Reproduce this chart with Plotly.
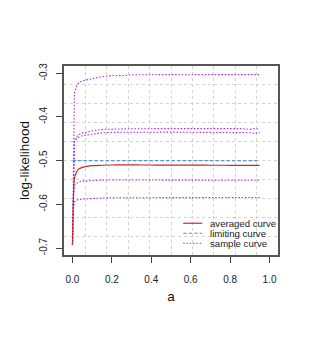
import plotly.graph_objects as go

a_vals = [0, 0.005, 0.01, 0.02, 0.03, 0.05, 0.075, 0.1, 0.15, 0.2, 0.25, 0.3, 0.35,
          0.4, 0.45, 0.5, 0.55, 0.6, 0.65, 0.7, 0.75, 0.8, 0.85, 0.9, 0.925, 0.95]

averaged = [-0.693, -0.590, -0.540, -0.527, -0.520, -0.5155, -0.513, -0.5115, -0.5105, -0.5100,
            -0.5098, -0.5098, -0.5099, -0.5100, -0.5101, -0.5102, -0.5103, -0.5104, -0.5104,
            -0.5105, -0.5105, -0.5106, -0.5106, -0.5107, -0.5107, -0.5108]

limiting = [-0.5] * len(a_vals)

sample1 = [-0.693, -0.450, -0.345, -0.330, -0.322, -0.317, -0.3146, -0.313, -0.308, -0.305,
           -0.3055, -0.3035, -0.303, -0.3025, -0.303, -0.303, -0.3032, -0.3033, -0.3032,
           -0.303, -0.3035, -0.3032, -0.303, -0.303, -0.3045, -0.303]
sample2 = [-0.693, -0.500, -0.452, -0.446, -0.441, -0.437, -0.434, -0.432, -0.4285, -0.4275,
           -0.427, -0.4268, -0.4268, -0.4267, -0.4268, -0.4268, -0.4267, -0.4268, -0.4268,
           -0.4267, -0.4268, -0.4268, -0.4267, -0.4285, -0.4265, -0.428]
sample3 = [-0.693, -0.510, -0.455, -0.451, -0.447, -0.443, -0.441, -0.439, -0.4365, -0.4352,
           -0.4348, -0.4348, -0.4347, -0.4348, -0.4348, -0.4347, -0.4348, -0.4348, -0.4348,
           -0.4347, -0.4348, -0.4348, -0.4350, -0.436, -0.4375, -0.435]
sample4 = [-0.693, -0.580, -0.556, -0.552, -0.549, -0.547, -0.546, -0.545, -0.5445, -0.5442,
           -0.5442, -0.5441, -0.5441, -0.5442, -0.5442, -0.5441, -0.5442, -0.5442, -0.5442,
           -0.5443, -0.5443, -0.5444, -0.5444, -0.5446, -0.5448, -0.5450]
sample5 = [-0.693, -0.610, -0.594, -0.591, -0.589, -0.588, -0.587, -0.586, -0.5855, -0.585,
           -0.5848, -0.5845, -0.5845, -0.5845, -0.5845, -0.5844, -0.5845, -0.5845, -0.5845,
           -0.5845, -0.5845, -0.5846, -0.5846, -0.5848, -0.5850, -0.5845]
samples = [sample1, sample2, sample3, sample4, sample5]

x_ticks = [0.0, 0.2, 0.4, 0.6, 0.8, 1.0]
x_ticklabels = ["0.0", "0.2", "0.4", "0.6", "0.8", "1.0"]
y_ticks = [-0.7, -0.6, -0.5, -0.4, -0.3]
y_ticklabels = ["-0.7", "-0.6", "-0.5", "-0.4", "-0.3"]

legend_labels = ["averaged curve", "limiting curve", "sample curve"]

RED = "#c42a2e"
BLUE = "#5096e0"
PURPLE = "#a32cf0"

x_range = [-0.043, 1.043]
y_range = [-0.716, -0.2833]
x_grid = [x_range[0] + k * (x_range[1] - x_range[0]) / 10 for k in range(1, 10)]
y_grid = [y_range[0] + k * (y_range[1] - y_range[0]) / 10 for k in range(1, 10)]

PURPLE_DASH = "1.5px,1.8px"
BLUE_DASH = "3.5px,2px"

fig = go.Figure()
for s in samples:
    fig.add_trace(go.Scatter(x=a_vals, y=s, mode="lines", showlegend=False,
                             line=dict(color=PURPLE, width=1.1, dash=PURPLE_DASH)))
fig.add_trace(go.Scatter(x=a_vals, y=limiting, mode="lines", showlegend=False,
                         line=dict(color=BLUE, width=1.1, dash=BLUE_DASH)))
fig.add_trace(go.Scatter(x=a_vals, y=averaged, mode="lines", showlegend=False,
                         line=dict(color=RED, width=1.2), line_shape="spline"))

font = "Liberation Sans, Arial, sans-serif"

# manual legend (R-style, no box)
leg_styles = [dict(color=RED, width=1.2, dash="solid"),
              dict(color=BLUE, width=1.1, dash=BLUE_DASH),
              dict(color=PURPLE, width=1.1, dash=PURPLE_DASH)]
x0p, x1p, xtp = 0.557, 0.646, 0.674
y_rows = [0.168, 0.115, 0.062]
for lab, st, yp in zip(legend_labels, leg_styles, y_rows):
    fig.add_shape(type="line", xref="paper", yref="paper", x0=x0p, x1=x1p, y0=yp, y1=yp,
                  line=st)
    fig.add_annotation(xref="paper", yref="paper", x=xtp, y=yp, text=lab, showarrow=False,
                       xanchor="left", yanchor="middle",
                       font=dict(family=font, size=9.6, color="#222"))

# page body has an 8px default margin, so the figure is 8px smaller and offsets reduced
fig.update_layout(
    width=303, height=330,
    margin=dict(l=56, r=33, t=58, b=83, autoexpand=False),
    paper_bgcolor="white", plot_bgcolor="white",
    font=dict(family=font, color="#222"),
    showlegend=False,
)
fig.update_xaxes(
    range=x_range, tickvals=x_ticks, ticktext=x_ticklabels, showgrid=False, zeroline=False,
    ticks="outside", ticklen=6, tickcolor="#444", tickwidth=1, automargin=False,
    ticklabelstandoff=8,
    showline=True, mirror=True, linecolor="#555", linewidth=1.5,
    tickfont=dict(size=10, family=font, color="#222"),
    title=dict(text="a", font=dict(size=13.5, family=font, color="#111"), standoff=8),
    minor=dict(tickvals=x_grid, showgrid=True, gridcolor="#d3d3d3", griddash="dot",
               gridwidth=1, ticklen=0),
)
fig.update_yaxes(
    range=y_range, tickvals=y_ticks, ticktext=y_ticklabels, showgrid=False, zeroline=False,
    ticks="outside", ticklen=6, tickcolor="#444", tickwidth=1, tickangle=-90, automargin=False,
    ticklabelstandoff=5,
    showline=True, mirror=True, linecolor="#555", linewidth=1.5,
    tickfont=dict(size=10, family=font, color="#222"),
    title=dict(text="log-likelihood", font=dict(size=13.5, family=font, color="#111"), standoff=6),
    minor=dict(tickvals=y_grid, showgrid=True, gridcolor="#d3d3d3", griddash="dot",
               gridwidth=1, ticklen=0),
)

fig.write_html("out.html")
